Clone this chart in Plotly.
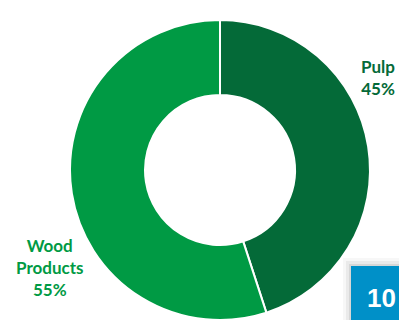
import plotly.graph_objects as go

categories = ["Pulp", "Wood Products"]
shares = [45, 55]
colors = ["#046A38", "#009A44"]
page_number = "10"

fig = go.Figure()
fig.add_trace(go.Pie(
    labels=categories,
    values=shares,
    hole=0.5,
    sort=False,
    direction="clockwise",
    rotation=0,
    textinfo="none",
    hoverinfo="label+percent",
    marker=dict(colors=colors, line=dict(color="white", width=2)),
    domain=dict(x=[70/399, 370/399], y=[0, 300/320]),
    showlegend=False,
))

font = "Lato, 'Open Sans', sans-serif"
fig.add_annotation(x=378/399, y=1-77/320, xref="paper", yref="paper",
                   text=f"<b>{categories[0]}<br>{shares[0]}%</b>",
                   showarrow=False, align="center", xanchor="center", yanchor="middle",
                   font=dict(family=font, size=17, color=colors[0]))
fig.add_annotation(x=49/399, y=1-267/320, xref="paper", yref="paper",
                   text=f"<b>Wood<br>Products<br>{shares[1]}%</b>",
                   showarrow=False, align="center", xanchor="center", yanchor="middle",
                   font=dict(family=font, size=17, color=colors[1]))

# page number box with soft shadow
for i, a in enumerate([0.03, 0.05, 0.08]):
    d = 8 - i * 3
    fig.add_shape(type="rect", xref="paper", yref="paper",
                  x0=(351 - d)/399, x1=1.05, y0=-0.05, y1=1-(266 - d)/320,
                  fillcolor=f"rgba(0,0,0,{a})", line=dict(width=0))
fig.add_shape(type="rect", xref="paper", yref="paper",
              x0=351/399, x1=1.05, y0=-0.05, y1=1-266/320,
              fillcolor="#0090C8", line=dict(width=0))
fig.add_annotation(x=397/399, y=1-298/320, xref="paper", yref="paper",
                   text=f"<b>{page_number}</b>", showarrow=False,
                   xanchor="right", yanchor="middle", borderpad=0,
                   font=dict(family="Liberation Sans, Arial, sans-serif", size=26, color="white"))

fig.update_layout(width=399, height=320, margin=dict(l=0, r=0, t=0, b=0),
                  paper_bgcolor="white", plot_bgcolor="white")
fig.write_html("out.html")
